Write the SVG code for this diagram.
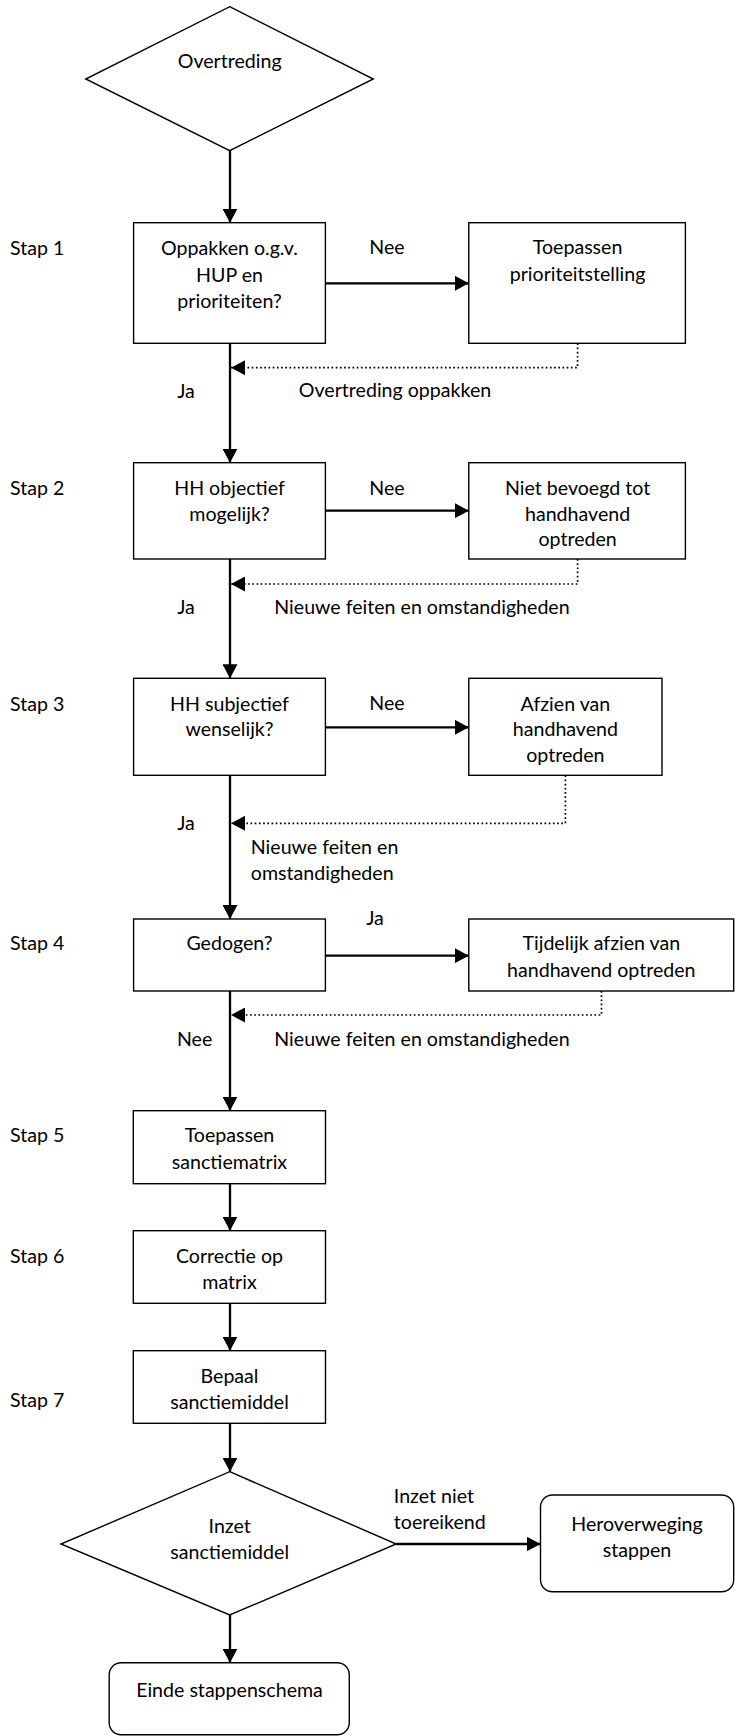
<svg xmlns="http://www.w3.org/2000/svg" width="735" height="1736" viewBox="0 0 735 1736">
  <style>
    text { font-family: Lato, "Liberation Sans", sans-serif; font-size: 19.6px; fill: #000; }
    .c { text-anchor: middle; }
    .shape { fill: #fff; stroke: #000; stroke-width: 1.4; }
    .conn { fill: none; stroke: #000; stroke-width: 2.3; }
    .dot { fill: none; stroke: #000; stroke-width: 1.7; stroke-dasharray: 1.7 2.5; }
  </style>
  <defs>
    <marker id="ah" viewBox="0 0 14 15" refX="14" refY="7.5" markerWidth="14" markerHeight="15" markerUnits="userSpaceOnUse" orient="auto">
      <path d="M0,0 L14,7.5 L0,15 z" fill="#000"/>
    </marker>
  </defs>
  <rect width="735" height="1736" fill="#fff"/>

  <g id="connectors">
    <path class="conn" d="M230,150.7 V222.7" marker-end="url(#ah)"/>
    <path class="conn" d="M325.4,283.3 H468.8" marker-end="url(#ah)"/>
    <path class="dot" d="M577.6,343.3 V367.7 H231" marker-end="url(#ah)"/>
    <path class="conn" d="M230,343.3 V462.7" marker-end="url(#ah)"/>
    <path class="conn" d="M325.4,510.7 H468.8" marker-end="url(#ah)"/>
    <path class="dot" d="M577.6,559 V584 H231" marker-end="url(#ah)"/>
    <path class="conn" d="M230,559 V678.3" marker-end="url(#ah)"/>
    <path class="conn" d="M325.4,727.3 H468.8" marker-end="url(#ah)"/>
    <path class="dot" d="M565.4,775.3 V823.3 H231" marker-end="url(#ah)"/>
    <path class="conn" d="M230,775.3 V919" marker-end="url(#ah)"/>
    <path class="conn" d="M325.4,955.7 H468.8" marker-end="url(#ah)"/>
    <path class="dot" d="M601.5,991 V1015 H231" marker-end="url(#ah)"/>
    <path class="conn" d="M230,991 V1110.7" marker-end="url(#ah)"/>
    <path class="conn" d="M230,1183.7 V1230.7" marker-end="url(#ah)"/>
    <path class="conn" d="M230,1303.3 V1350.7" marker-end="url(#ah)"/>
    <path class="conn" d="M230,1423.3 V1471.7" marker-end="url(#ah)"/>
    <path class="conn" d="M396.2,1544 H540.5" marker-end="url(#ah)"/>
    <path class="conn" d="M230,1615 V1662.7" marker-end="url(#ah)"/>
  </g>

  <g id="labels">
    <text x="10" y="255">Stap 1</text>
    <text x="10" y="495">Stap 2</text>
    <text x="10" y="711">Stap 3</text>
    <text x="10" y="950">Stap 4</text>
    <text x="10" y="1142">Stap 5</text>
    <text x="10" y="1263">Stap 6</text>
    <text x="10" y="1407">Stap 7</text>
    <text class="c" x="387" y="254">Nee</text>
    <text class="c" x="387" y="495">Nee</text>
    <text class="c" x="387" y="710">Nee</text>
    <text class="c" x="375" y="925">Ja</text>
    <text class="c" x="186" y="398">Ja</text>
    <text class="c" x="395" y="397">Overtreding oppakken</text>
    <text class="c" x="186" y="614">Ja</text>
    <text x="274.3" y="614">Nieuwe feiten en omstandigheden</text>
    <text class="c" x="186" y="830">Ja</text>
    <text x="250.8" y="854">Nieuwe feiten en</text>
    <text x="250.8" y="880">omstandigheden</text>
    <text class="c" x="194.6" y="1046">Nee</text>
    <text x="274.3" y="1046">Nieuwe feiten en omstandigheden</text>
    <text x="393.8" y="1503">Inzet niet</text>
    <text x="393.8" y="1529">toereikend</text>
  </g>

  <g id="start">
    <polygon class="shape" points="229.7,6.7 373.3,79 229.7,150.7 85.7,79"/>
    <text class="c" x="229.7" y="68">Overtreding</text>
  </g>

  <g id="stap1">
    <rect class="shape" x="133.6" y="222.7" width="191.8" height="120.6"/>
    <text class="c" x="229.5" y="255">Oppakken o.g.v.</text>
    <text class="c" x="229.5" y="281.7">HUP en</text>
    <text class="c" x="229.5" y="308">prioriteiten?</text>
  </g>
  <g id="stap1-nee">
    <rect class="shape" x="468.8" y="222.7" width="216.6" height="120.6"/>
    <text class="c" x="577.6" y="254.3">Toepassen</text>
    <text class="c" x="577.6" y="281">prioriteitstelling</text>
  </g>

  <g id="stap2">
    <rect class="shape" x="133.6" y="462.7" width="191.8" height="96.3"/>
    <text class="c" x="229.5" y="495">HH objectief</text>
    <text class="c" x="229.5" y="520.7">mogelijk?</text>
  </g>
  <g id="stap2-nee">
    <rect class="shape" x="468.8" y="462.7" width="216.6" height="96.3"/>
    <text class="c" x="577.6" y="495">Niet bevoegd tot</text>
    <text class="c" x="577.6" y="520.7">handhavend</text>
    <text class="c" x="577.6" y="546">optreden</text>
  </g>

  <g id="stap3">
    <rect class="shape" x="133.6" y="678.3" width="191.8" height="97"/>
    <text class="c" x="229.5" y="710.7">HH subjectief</text>
    <text class="c" x="229.5" y="736">wenselijk?</text>
  </g>
  <g id="stap3-nee">
    <rect class="shape" x="468.8" y="678.3" width="193.2" height="97"/>
    <text class="c" x="565.4" y="710.7">Afzien van</text>
    <text class="c" x="565.4" y="736">handhavend</text>
    <text class="c" x="565.4" y="761.7">optreden</text>
  </g>

  <g id="stap4">
    <rect class="shape" x="133.6" y="919" width="191.8" height="72"/>
    <text class="c" x="229.5" y="950">Gedogen?</text>
  </g>
  <g id="stap4-ja">
    <rect class="shape" x="468.8" y="919" width="264.9" height="72"/>
    <text class="c" x="601.3" y="950">Tijdelijk afzien van</text>
    <text class="c" x="601.3" y="976.7">handhavend optreden</text>
  </g>

  <g id="stap5">
    <rect class="shape" x="133.3" y="1110.7" width="192.2" height="73"/>
    <text class="c" x="229.5" y="1142.3">Toepassen</text>
    <text class="c" x="229.5" y="1169.3">sanctiematrix</text>
  </g>
  <g id="stap6">
    <rect class="shape" x="133.3" y="1230.7" width="192.2" height="72.6"/>
    <text class="c" x="229.5" y="1263.3">Correctie op</text>
    <text class="c" x="229.5" y="1289">matrix</text>
  </g>
  <g id="stap7">
    <rect class="shape" x="133.3" y="1350.7" width="192.2" height="72.6"/>
    <text class="c" x="229.5" y="1383.3">Bepaal</text>
    <text class="c" x="229.5" y="1409">sanctiemiddel</text>
  </g>

  <g id="inzet">
    <polygon class="shape" points="229.7,1471.7 396.2,1544 229.7,1615 61,1544"/>
    <text class="c" x="229.7" y="1533.3">Inzet</text>
    <text class="c" x="229.7" y="1559.3">sanctiemiddel</text>
  </g>
  <g id="heroverweging">
    <rect class="shape" x="540.5" y="1495" width="193.2" height="96.7" rx="12" ry="12"/>
    <text class="c" x="637" y="1531">Heroverweging</text>
    <text class="c" x="637" y="1557">stappen</text>
  </g>
  <g id="einde">
    <rect class="shape" x="109.2" y="1662.7" width="240.1" height="72" rx="12" ry="12"/>
    <text class="c" x="229.5" y="1696.7">Einde stappenschema</text>
  </g>
</svg>
